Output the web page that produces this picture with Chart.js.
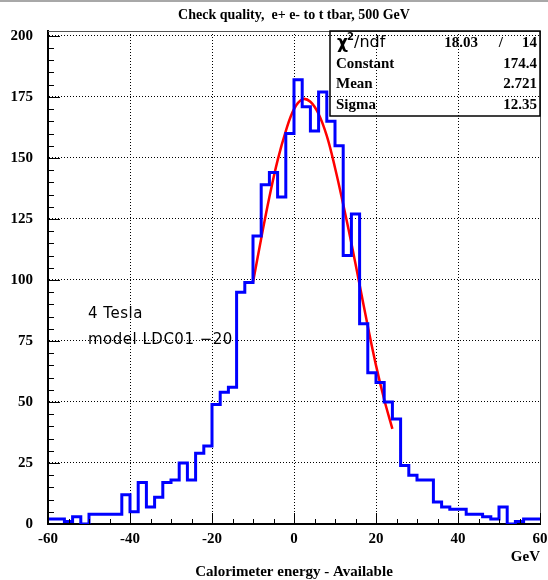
<!DOCTYPE html>
<html>
<head>
<meta charset="utf-8">
<script src="https://cdn.jsdelivr.net/npm/chart.js@4.4.1/dist/chart.umd.min.js"></script>
<style>
  html, body { margin: 0; padding: 0; background: #fff; }
  #wrap { width: 548px; height: 580px; }
</style>
</head>
<body>
<div id="wrap"><canvas id="grafico" width="548" height="580"></canvas></div>
<script>
// ---------------- DADOS ----------------
// histograma: bins de 2 GeV (borda inferior de cada bin)
const binEdges = [-60,-58,-56,-54,-52,-50,-48,-46,-44,-42,-40,-38,-36,-34,-32,-30,-28,-26,-24,-22,
                  -20,-18,-16,-14,-12,-10,-8,-6,-4,-2,0,2,4,6,8,10,12,14,16,18,
                  20,22,24,26,28,30,32,34,36,38,40,42,44,46,48,50,52,54,56,58];
const binCounts = [2,2,1,3,0,4,4,4,4,12,5,17,7,11,17,18,25,18,29,32,
                   49,54,56,95,99,118,139,144,134,160,182,171,161,177,165,155,110,127,82,62,
                   58,50,43,24,20,18,18,9,7,6,6,4,4,3,2,7,0,1,2,2];
const xMax = 60;

// curva do ajuste
const fitX = [-10,-8,-6,-4,-2,0,2,4,6,8,10,12,14,16,18,20,22,24];
const fitY = [99,117,134,149,161,170,174,173,168,159,146,131,115,98,81,65,51,39];

const xTicks = [-60,-40,-20,0,20,40,60];
const yTicks = [0,25,50,75,100,125,150,175,200];

const titulo = "Check quality,  e+ e- to t tbar, 500 GeV";
const tituloX = "Calorimeter energy - Available";
const unidadeX = "GeV";
const statsNomes = ["Constant","Mean","Sigma"];
const statsValores = ["174.4","2.721","12.35"];
const chi2 = "18.03";
const ndf = "14";
const anotacoes = ["4 Tesla", "model LDC01 \u221220"];

const serif = '"Liberation Serif", "DejaVu Serif", serif';
const sans = '"DejaVu Sans", "Liberation Sans", sans-serif';

// ---------------- MONTANDO OS PONTOS ----------------
const pontosHist = binEdges.map((e, i) => ({ x: e, y: binCounts[i] }));
pontosHist.push({ x: xMax, y: binCounts[binCounts.length - 1] });
const pontosFit = fitX.map((v, i) => ({ x: v, y: fitY[i] }));

// ---------------- PLUGIN DE DECORACAO (estilo ROOT) ----------------
const decoracao = {
  id: 'decoracao',
  beforeDraw(chart) {
    const ctx = chart.ctx;
    ctx.save();
    ctx.fillStyle = '#fff';
    ctx.fillRect(0, 0, chart.width, chart.height);
    ctx.fillStyle = '#a8a8a8';
    ctx.fillRect(0, 0, chart.width, 2);
    ctx.restore();
  },
  afterDraw(chart) {
    const { ctx, chartArea: a, scales: { x, y } } = chart;
    ctx.save();

    // moldura de cima e da direita
    ctx.strokeStyle = '#555';
    ctx.lineWidth = 1;
    ctx.beginPath();
    ctx.moveTo(a.left, a.top + 0.5);
    ctx.lineTo(a.right + 0.5, a.top + 0.5);
    ctx.lineTo(a.right + 0.5, a.bottom);
    ctx.stroke();

    // ticks para dentro
    ctx.strokeStyle = '#000';
    ctx.lineWidth = 1;
    ctx.beginPath();
    for (let v = 0; v <= 200; v += 5) {
      const py = Math.round(y.getPixelForValue(v)) + 0.5;
      const len = v % 25 === 0 ? 12 : 6;
      ctx.moveTo(a.left, py);
      ctx.lineTo(a.left + len, py);
    }
    for (let v = -60; v <= 60; v += 5) {
      const px = Math.round(x.getPixelForValue(v)) + 0.5;
      const len = v % 20 === 0 ? 11 : 5;
      ctx.moveTo(px, a.bottom);
      ctx.lineTo(px, a.bottom - len);
    }
    ctx.stroke();

    // titulos
    ctx.fillStyle = '#000';
    ctx.textBaseline = 'middle';
    ctx.textAlign = 'center';
    ctx.font = 'bold 14px ' + serif;
    ctx.fillText(titulo, (a.left + a.right) / 2, 15);
    ctx.font = 'bold 15px ' + serif;
    ctx.fillText(tituloX, (a.left + a.right) / 2, 572);
    ctx.textAlign = 'right';
    ctx.fillText(unidadeX, a.right, 557);

    // caixa de estatisticas
    const bx = 330, by = a.top, bw = a.right - 330, bh = 85;
    ctx.lineWidth = 1.5;
    ctx.strokeRect(bx, by, bw, bh);

    ctx.textAlign = 'left';
    ctx.font = 'bold 17px ' + sans;
    ctx.fillText('\u03c7', 337, 44);
    ctx.font = 'bold 10px ' + sans;
    ctx.fillText('2', 347, 37);
    ctx.font = '16px ' + sans;
    ctx.fillText('/ndf', 354, 43);

    ctx.font = 'bold 15px ' + serif;
    ctx.textAlign = 'right';
    ctx.fillText(chi2, 478, 43);
    ctx.fillText('/', 503, 43);
    ctx.fillText(ndf, 537, 43);
    statsNomes.forEach((nome, i) => {
      const ry = 64 + i * 20.5;
      ctx.textAlign = 'left';
      ctx.fillText(nome, 336, ry);
      ctx.textAlign = 'right';
      ctx.fillText(statsValores[i], 537, ry);
    });

    // anotacoes
    ctx.textAlign = 'left';
    ctx.font = '15px ' + sans;
    if ('letterSpacing' in ctx) ctx.letterSpacing = '0.5px';
    ctx.fillText(anotacoes[0], 88, 314);
    ctx.fillText(anotacoes[1], 88, 340);
    ctx.restore();
  }
};

// ---------------- GRAFICO ----------------
const ctx = document.getElementById('grafico').getContext('2d');
const grafico = new Chart(ctx, {
  type: 'line',
  data: {
    datasets: [
      {
        label: 'hist',
        data: pontosHist,
        stepped: 'before',
        borderColor: '#0000ff',
        borderWidth: 3,
        pointRadius: 0,
        fill: false
      },
      {
        label: 'fit',
        data: pontosFit,
        borderColor: '#ff0000',
        borderWidth: 2.5,
        pointRadius: 0,
        tension: 0.4,
        fill: false
      }
    ]
  },
  options: {
    responsive: false,
    animation: false,
    events: [],
    layout: { padding: { top: 31, right: 8, left: 0, bottom: 0 } },
    plugins: { legend: { display: false }, tooltip: { enabled: false }, title: { display: false } },
    scales: {
      x: {
        type: 'linear',
        min: -60,
        max: 60,
        afterBuildTicks: s => { s.ticks = xTicks.map(v => ({ value: v })); },
        afterFit: s => { s.height = 56; s.paddingLeft = 0; s.paddingRight = 0; },
        ticks: { color: '#000', font: { family: serif, size: 15, weight: 'bold' }, padding: 6, maxRotation: 0, autoSkip: false },
        grid: { color: '#000', lineWidth: 1, drawTicks: false },
        border: { color: '#000', width: 2, dash: [1, 2] }
      },
      y: {
        min: 0,
        max: 202,
        afterBuildTicks: s => { s.ticks = yTicks.map(v => ({ value: v })); },
        afterFit: s => { s.width = 48; s.paddingTop = 0; s.paddingBottom = 0; },
        ticks: { color: '#000', font: { family: serif, size: 15, weight: 'bold' }, padding: 15 },
        grid: { color: '#000', lineWidth: 1, drawTicks: false },
        border: { color: '#000', width: 2, dash: [1, 2] }
      }
    }
  },
  plugins: [decoracao]
});
</script>
</body>
</html>
